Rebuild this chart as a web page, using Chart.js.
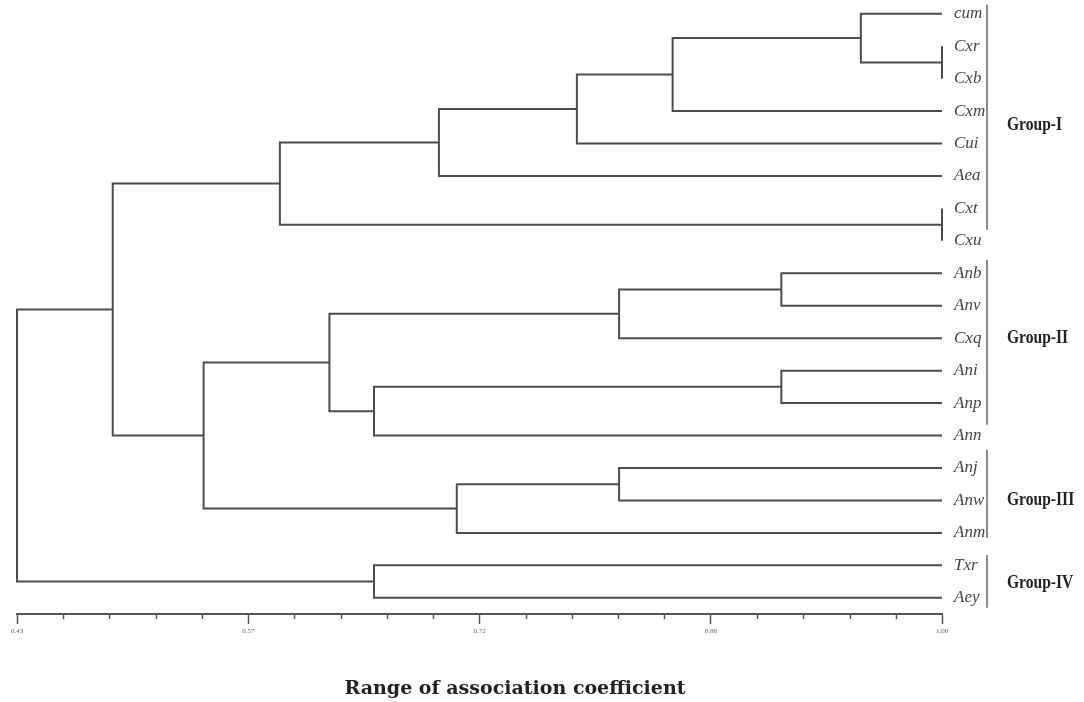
<!DOCTYPE html>
<html>
<head>
<meta charset="utf-8">
<script src="https://cdn.jsdelivr.net/npm/chart.js@4.4.1/dist/chart.umd.min.js"></script>
<style>
html,body{margin:0;padding:0;background:#fff;}
canvas{display:block;}
</style>
</head>
<body>
<canvas id="c" width="1084" height="702"></canvas>
<script>
// ---- data ----
const leaves = ['cum','Cxr','Cxb','Cxm','Cui','Aea','Cxt','Cxu','Anb','Anv','Cxq','Ani','Anp','Ann','Anj','Anw','Anm','Txr','Aey'];
// linkage: node ids 0..18 are leaves, merges get ids 19, 20, ...
const mergeLeft   = [1, 0, 20, 21, 22, 6, 23, 8, 26, 11, 28, 27, 14, 31, 30, 25, 17, 34];
const mergeRight  = [2, 19, 3, 4, 5, 7, 24, 9, 10, 12, 13, 29, 15, 16, 32, 33, 18, 35];
const mergeHeight = [1.00, 0.95, 0.834, 0.775, 0.690, 1.00, 0.592, 0.901, 0.801, 0.901, 0.650, 0.6225, 0.801, 0.701, 0.545, 0.489, 0.650, 0.43];
const majorTickLabels = ['0.43', '0.57', '0.72', '0.86', '1.00'];
const groupNames = ['Group-I', 'Group-II', 'Group-III', 'Group-IV'];
const groupSpanStart = [-0.28, 7.58, 13.44, 16.68];
const groupSpanEnd   = [6.66, 12.67, 16.15, 18.31];
const groupLabelAt   = [3.42, 9.99, 14.98, 17.54];
const axisTitle = 'Range of association coefficient';

// ---- build dendrogram segments from linkage ----
const xMin = 0.43, xMax = 1.00;
const pos = leaves.map((_, i) => ({x: xMax, y: i}));
const datasets = [];
mergeHeight.forEach((h, k) => {
  const a = pos[mergeLeft[k]], b = pos[mergeRight[k]];
  datasets.push({
    data: [{x: a.x, y: a.y}, {x: h, y: a.y}, {x: h, y: b.y}, {x: b.x, y: b.y}],
    showLine: true, borderColor: '#4d4d4d', borderWidth: 2, pointRadius: 0,
    pointHoverRadius: 0, tension: 0, fill: false, clip: false
  });
  pos.push({x: h, y: (a.y + b.y) / 2});
});

const nMinor = 20;
const tickValues = [];
for (let i = 0; i <= nMinor; i++) tickValues.push(xMin + (xMax - xMin) * i / nMinor);

const extras = {
  id: 'extras',
  afterDraw(chart) {
    const ctx = chart.ctx, xs = chart.scales.x, ys = chart.scales.y;
    const axisY = chart.chartArea.bottom;
    ctx.save();
    // minor ticks
    ctx.strokeStyle = '#555'; ctx.lineWidth = 1.5;
    tickValues.forEach((v, i) => {
      if (i % 5 === 0) return;
      const px = Math.round(xs.getPixelForValue(v)) + 0.5;
      ctx.beginPath(); ctx.moveTo(px, axisY); ctx.lineTo(px, axisY + 5); ctx.stroke();
    });
    // group bars and labels
    const barX = 987;
    groupNames.forEach((g, i) => {
      ctx.strokeStyle = '#8a8a8a'; ctx.lineWidth = 2;
      ctx.beginPath();
      ctx.moveTo(barX, ys.getPixelForValue(groupSpanStart[i]));
      ctx.lineTo(barX, ys.getPixelForValue(groupSpanEnd[i]));
      ctx.stroke();
      ctx.save();
      ctx.translate(1007, ys.getPixelForValue(groupLabelAt[i]));
      ctx.scale(0.82, 1);
      ctx.fillStyle = '#222';
      ctx.font = 'bold 19px "Liberation Serif", serif';
      ctx.textAlign = 'left'; ctx.textBaseline = 'middle';
      ctx.fillText(g, 0, 0);
      ctx.restore();
    });
    // axis title
    ctx.fillStyle = '#222';
    ctx.font = 'bold 19px "DejaVu Serif", serif';
    ctx.textAlign = 'center'; ctx.textBaseline = 'middle';
    ctx.fillText(axisTitle, 515, 689);
    ctx.restore();
  }
};

new Chart(document.getElementById('c'), {
  type: 'scatter',
  data: {datasets},
  options: {
    responsive: false, animation: false, devicePixelRatio: 1,
    layout: {padding: {left: 17, top: 4, right: 0, bottom: 0}},
    plugins: {legend: {display: false}, tooltip: {enabled: false}, title: {display: false}},
    events: [],
    scales: {
      x: {
        type: 'linear', position: 'bottom', min: xMin, max: xMax,
        afterBuildTicks: s => { s.ticks = tickValues.map(v => ({value: v})); },
        afterFit: s => { s.height = 88; s.paddingLeft = 0; s.paddingRight = 0; },
        ticks: {
          autoSkip: false, maxRotation: 0, padding: 3, color: '#666',
          font: {family: '"Liberation Serif", serif', size: 7},
          callback: (v, i) => (i % 5 === 0 ? majorTickLabels[i / 5] : '')
        },
        grid: {
          display: true, drawOnChartArea: false, tickLength: 10,
          tickColor: c => (c.index % 5 === 0 ? '#555' : 'rgba(0,0,0,0)'), tickWidth: 1.5
        },
        border: {display: true, color: '#555', width: 2}
      },
      y: {
        type: 'linear', position: 'right', reverse: true, min: -0.3, max: 18.5,
        afterBuildTicks: s => { s.ticks = leaves.map((_, i) => ({value: i})); },
        afterFit: s => { s.width = 142; s.paddingTop = 0; s.paddingBottom = 0; },
        ticks: {
          autoSkip: false, padding: 4, color: '#444',
          font: {family: '"Liberation Serif", serif', style: 'italic', size: 17},
          callback: v => leaves[v]
        },
        grid: {display: false},
        border: {display: false}
      }
    }
  },
  plugins: [extras]
});
</script>
</body>
</html>
